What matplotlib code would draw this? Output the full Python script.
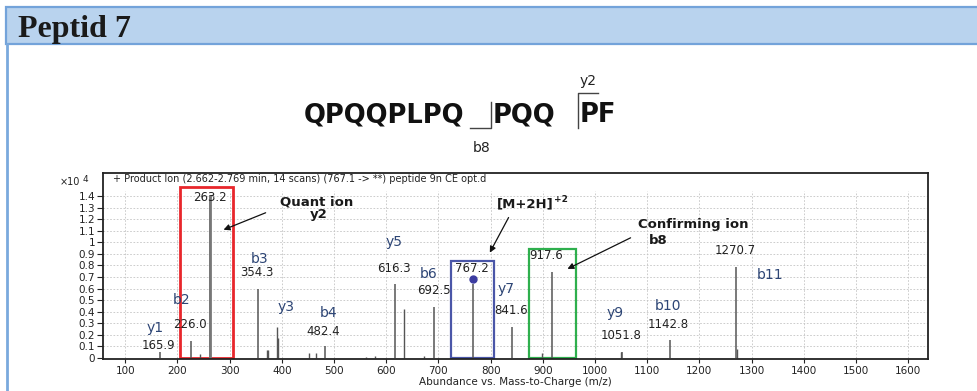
import numpy as np
import matplotlib
matplotlib.use('Agg')
import matplotlib.pyplot as plt
from matplotlib.patches import Rectangle
from matplotlib.lines import Line2D

plt.rcParams['font.family'] = ['DejaVu Sans']

# Product ion spectrum, abundance in units of 10^4
# labelled peaks
peak_mz = [165.9, 226.0, 263.2, 354.3, 482.4, 616.3, 692.5, 767.2,
           841.6, 917.6, 1051.8, 1142.8, 1270.7]
peak_ab = [0.05, 0.15, 1.41, 0.60, 0.10, 0.64, 0.44, 0.64,
           0.265, 0.745, 0.055, 0.155, 0.79]
# small unlabelled peaks
minor_mz = [243.0, 371.5, 373.0, 390.5, 392.0, 451.5, 465.5, 561.0,
            579.0, 635.0, 672.5, 899.0, 1050.0, 1272.5]
minor_ab = [0.035, 0.07, 0.07, 0.27, 0.17, 0.04, 0.045, 0.01,
            0.015, 0.42, 0.02, 0.045, 0.05, 0.08]

ion_names = ['y1', 'b2', 'b3', 'y3', 'b4', 'y5', 'b6', 'y7', 'y9', 'b10', 'b11']
precursor_mz = 767.2
precursor_ab = 0.685

x_ticks = list(range(100, 1700, 100))
y_ticks = [0, 0.1, 0.2, 0.3, 0.4, 0.5, 0.6, 0.7, 0.8, 0.9, 1, 1.1, 1.2, 1.3, 1.4]
y_ticklabels = ['0', '0.1', '0.2', '0.3', '0.4', '0.5', '0.6', '0.7', '0.8',
                '0.9', '1', '1.1', '1.2', '1.3', '1.4']

W, H = 978, 391


def fx(px):
    return px / W


def fy(py):
    return 1 - py / H


fig = plt.figure(figsize=(9.78, 3.91), dpi=100)

# header band
fig.patches.append(Rectangle((fx(6), fy(44)), fx(980 - 6), fy(7) - fy(44),
                             transform=fig.transFigure, facecolor='#b9d3ee',
                             edgecolor='#73a3da', lw=1.6, zorder=0))
fig.lines.append(Line2D([fx(7), fx(7)], [fy(44), 0], transform=fig.transFigure,
                        color='#7aa9dd', lw=2))
fig.text(fx(18), fy(36.5), 'Peptid 7', family='Liberation Serif',
         fontweight='bold', fontsize=23, va='baseline', ha='left', color='#1a1a1a')

# peptide sequence with fragment cleavage marks
seq_y = fy(115)
fig.text(fx(384), seq_y, 'QPQQPLPQ', fontsize=18.5, fontweight='bold',
         ha='center', va='center', color='#111111')
fig.text(fx(524), seq_y, 'PQQ', fontsize=18.5, fontweight='bold',
         ha='center', va='center', color='#111111')
fig.text(fx(598), seq_y, 'PF', fontsize=18.5, fontweight='bold',
         ha='center', va='center', color='#111111')
for xs, ys in [([470, 490.7, 490.7], [128.3, 128.3, 101.7]),
               ([598.3, 577.7, 577.7], [93.3, 93.3, 128.3])]:
    fig.lines.append(Line2D([fx(v) for v in xs], [fy(v) for v in ys],
                            transform=fig.transFigure, color='#444444', lw=1))
fig.text(fx(481.7), fy(148.3), 'b8', fontsize=10, ha='center', va='center', color='#222222')
fig.text(fx(588.3), fy(80.7), 'y2', fontsize=10, ha='center', va='center', color='#222222')

# spectrum axes
ax = fig.add_axes([fx(103), fy(359), fx(928) - fx(103), fy(173) - fy(359)])
ax.set_xlim(57.5, 1638)
ax.set_ylim(-0.009, 1.6)

ax.vlines(x_ticks, 0, 1.44, colors='#c4c4c4', lw=0.6, linestyles=(0, (2, 2)), zorder=0)
ax.hlines(y_ticks[1:], 57.5, 1638, colors='#c4c4c4', lw=0.6, linestyles=(0, (2, 2)), zorder=0)

ax.vlines(minor_mz, 0, minor_ab, colors='#555555', lw=1.0)
ax.vlines(peak_mz, 0, peak_ab, colors='#555555', lw=1.1)
ax.vlines(263.2, 0, 1.41, colors='#777777', lw=2.0)
ax.plot(precursor_mz, precursor_ab, 'o', color='#3c3ca0', ms=5)

ax.set_xticks(x_ticks)
ax.set_yticks(y_ticks)
ax.set_yticklabels(y_ticklabels)
ax.tick_params(axis='both', labelsize=7.5, colors='#222222', length=4, width=0.8, pad=1.5)
ax.tick_params(axis='x', length=3, pad=2)
for s in ax.spines.values():
    s.set_linewidth(1.3)
    s.set_color('#222222')
ax.set_xlabel('Abundance vs. Mass-to-Charge (m/z)', fontsize=7.5, labelpad=0.5, color='#222222')

ax.text(0.012, 0.968, '+ Product Ion (2.662-2.769 min, 14 scans) (767.1 -> **) peptide 9n CE opt.d',
        transform=ax.transAxes, fontsize=7, ha='left', va='center', color='#222222')
t10 = fig.text(fx(80), fy(182), '×10', fontsize=7, ha='right', va='center', color='#222222')
ax.annotate('4', xy=(1, 0.35), xycoords=t10, xytext=(2, 0), textcoords='offset points',
            fontsize=6.5, ha='left', va='bottom', color='#222222', annotation_clip=False)

# m/z labels for the peaks
num_pos = [(163, 0.106), (224, 0.29), (263, 1.39), (352, 0.74), (480, 0.233),
           (615, 0.77), (692, 0.58), (765, 0.775), (840, 0.41), (907, 0.885),
           (1051, 0.19), (1140, 0.29), (1268, 0.93)]
for m, (x, y) in zip(peak_mz, num_pos):
    ax.text(x, y, f'{m:.1f}', fontsize=8.5, ha='center', va='center', color='#222222')

# fragment ion names
name_pos = [(157, 0.26), (208, 0.50), (358, 0.855), (409, 0.44), (489, 0.386),
            (615, 1.0), (681, 0.73), (829.5, 0.6), (1038, 0.386), (1140, 0.45),
            (1335, 0.72)]
for n, (x, y) in zip(ion_names, name_pos):
    ax.text(x, y, n, fontsize=10, ha='center', va='center', color='#2d4575')

# highlighted ions
ax.add_patch(Rectangle((205, -0.004), 102, 1.485, fill=False, ec='#e8262b', lw=2))
ax.add_patch(Rectangle((724, -0.004), 82, 0.845, fill=False, ec='#4a56a8', lw=1.6))
ax.add_patch(Rectangle((873.6, -0.004), 90, 0.945, fill=False, ec='#2eaf4d', lw=1.6))

arrow = dict(arrowstyle='-|>', color='#111111', lw=0.9, mutation_scale=9)
ax.annotate('', xy=(283.5, 1.10), xytext=(374, 1.265), arrowprops=arrow)
ax.annotate('', xy=(796, 0.89), xytext=(837, 1.236), arrowprops=arrow)
ax.annotate('', xy=(942.5, 0.76), xytext=(1073, 1.05), arrowprops=arrow)

bold = dict(fontsize=9.5, fontweight='bold', ha='center', va='center', color='#1a1a1a')
ax.text(467, 1.346, 'Quant ion', **bold)
ax.text(470, 1.242, 'y2', **bold)
ax.text(1188.7, 1.156, 'Confirming ion', **bold)
ax.text(1121, 1.02, 'b8', **bold)
tm = ax.text(866, 1.331, '[M+2H]', **bold)
ax.annotate('+2', xy=(1, 0.5), xycoords=tm, xytext=(0.5, 0), textcoords='offset points',
            fontsize=6.5, fontweight='bold', ha='left', va='bottom', color='#1a1a1a')

fig.savefig('out.png', dpi=100)
